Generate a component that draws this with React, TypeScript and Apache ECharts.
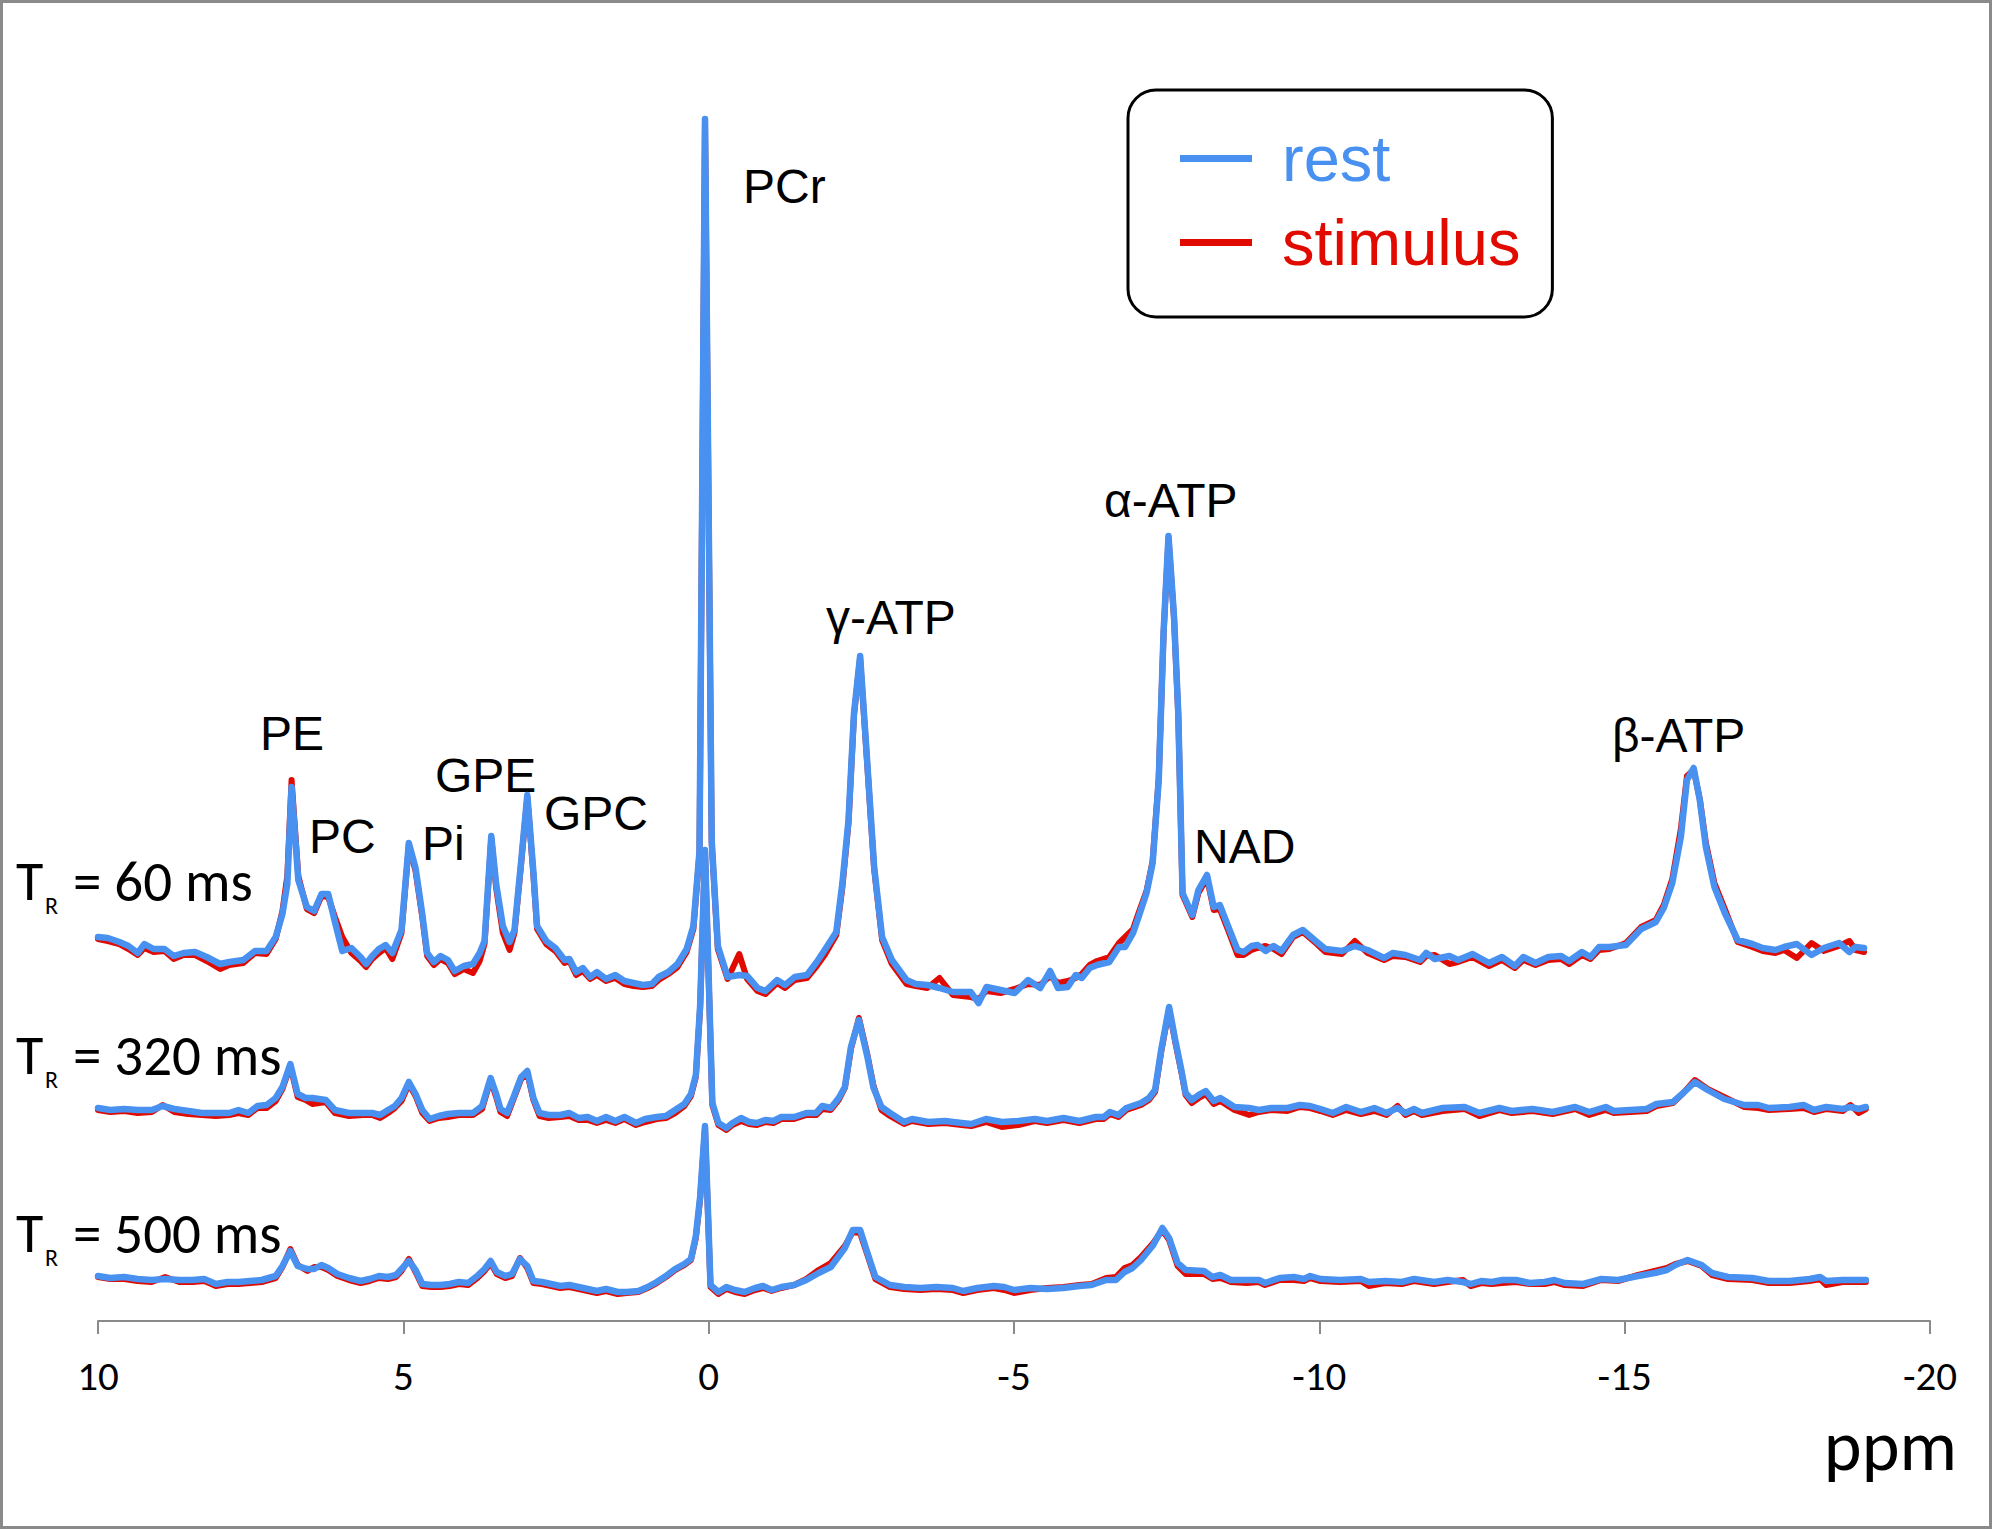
import React, { useEffect, useRef } from "react";
import * as echarts from "echarts";

// Columns: [chemical shift (ppm), rest, stimulus] — stacked intensities (a.u.)
const spectrum60: [number, number, number][] = [
  [10.0,384,382],[9.84,383,380],[9.65,379,377],[9.5,375,372],[9.35,368,366],[9.24,377,373],[9.09,372,369],[8.91,372,370],[8.76,365,362],[8.6,368,366],[8.41,369,366],[8.22,364,360],[8.0,357,352],[7.85,359,356],[7.62,361,358],[7.43,370,368],[7.24,370,367],[7.09,384,382],[6.98,407,410],[6.9,437,445],[6.83,534,541],[6.72,441,445],[6.58,414,412],[6.46,410,408],[6.34,427,425],[6.23,427,424],[6.12,399,404],[6.0,370,384],[5.85,373,368],[5.7,364,360],[5.61,357,354],[5.51,365,362],[5.4,372,368],[5.29,376,373],[5.18,368,362],[5.03,391,388],[4.91,478,476],[4.8,453,450],[4.69,407,404],[4.61,368,365],[4.5,359,356],[4.39,365,362],[4.27,361,358],[4.16,350,347],[4.01,355,352],[3.86,357,348],[3.75,368,360],[3.67,380,377],[3.56,485,483],[3.48,437,433],[3.37,395,388],[3.26,379,371],[3.18,391,388],[3.07,460,458],[2.97,526,524],[2.87,449,446],[2.81,395,392],[2.66,380,377],[2.51,373,370],[2.36,361,358],[2.28,362,360],[2.17,349,346],[2.06,353,350],[1.94,344,342],[1.83,349,346],[1.68,342,340],[1.53,346,343],[1.38,340,337],[1.23,338,335],[1.08,336,334],[0.93,337,335],[0.82,344,341],[0.66,349,347],[0.51,357,354],[0.36,372,369],[0.25,395,392],[0.15,470,468],[0.06,1202,1199],[-0.05,480,478],[-0.15,375,372],[-0.31,344,342],[-0.5,346,367],[-0.63,345,342],[-0.8,333,330],[-0.93,330,327],[-1.12,341,338],[-1.25,336,333],[-1.41,344,341],[-1.61,346,343],[-1.77,359,355],[-1.9,371,366],[-2.09,389,386],[-2.19,438,434],[-2.29,501,498],[-2.38,608,606],[-2.48,665,663],[-2.58,574,572],[-2.71,454,452],[-2.84,384,381],[-3.0,361,357],[-3.24,341,337],[-3.39,337,335],[-3.58,336,333],[-3.78,333,343],[-4.0,329,326],[-4.29,329,324],[-4.42,318,322],[-4.55,334,330],[-4.78,331,328],[-5.01,328,332],[-5.23,341,337],[-5.43,333,336],[-5.59,350,345],[-5.72,333,338],[-5.88,334,340],[-6.01,346,343],[-6.11,343,347],[-6.24,353,356],[-6.36,356,360],[-6.56,359,364],[-6.72,374,378],[-6.82,374,384],[-6.95,388,392],[-7.04,404,408],[-7.17,428,430],[-7.27,458,460],[-7.37,541,543],[-7.45,690,688],[-7.53,785,783],[-7.62,705,703],[-7.69,608,606],[-7.76,428,426],[-7.92,406,404],[-8.02,431,428],[-8.16,446,443],[-8.27,414,411],[-8.37,416,412],[-8.53,391,387],[-8.66,371,366],[-8.76,369,366],[-8.89,375,371],[-8.99,376,373],[-9.12,370,375],[-9.25,375,372],[-9.38,370,367],[-9.57,386,384],[-9.73,391,389],[-9.96,379,377],[-10.1,372,369],[-10.37,370,367],[-10.58,375,380],[-10.79,371,368],[-11.06,363,361],[-11.2,368,365],[-11.41,366,364],[-11.65,361,359],[-11.75,368,365],[-11.89,362,366],[-12.13,365,357],[-12.27,361,359],[-12.51,367,364],[-12.78,358,355],[-12.99,364,361],[-13.2,355,353],[-13.34,364,361],[-13.54,358,356],[-13.75,364,361],[-13.96,365,362],[-14.09,360,357],[-14.3,369,366],[-14.44,364,362],[-14.58,374,371],[-14.75,374,372],[-15.02,376,378],[-15.27,392,394],[-15.51,399,401],[-15.64,413,416],[-15.78,438,442],[-15.92,484,492],[-16.02,541,545],[-16.13,553,551],[-16.23,521,522],[-16.33,474,478],[-16.47,434,438],[-16.64,408,412],[-16.85,381,379],[-17.09,377,374],[-17.26,373,370],[-17.47,371,368],[-17.61,374,371],[-17.82,377,363],[-18.06,366,378],[-18.26,373,370],[-18.51,378,375],[-18.68,369,380],[-18.78,374,371],[-18.92,373,369]
];

const spectrum320: [number, number, number][] = [
  [10.0,213,211],[9.8,211,209],[9.57,212,210],[9.35,211,208],[9.12,211,209],[8.94,215,216],[8.75,212,209],[8.52,210,207],[8.3,208,206],[8.07,208,205],[7.85,208,206],[7.7,211,208],[7.54,208,206],[7.39,215,213],[7.24,216,213],[7.09,223,220],[6.98,234,232],[6.85,257,255],[6.73,227,224],[6.6,223,221],[6.49,223,217],[6.27,221,219],[6.12,211,208],[5.89,208,205],[5.67,208,206],[5.51,208,206],[5.38,206,203],[5.25,211,208],[5.14,215,213],[5.03,223,220],[4.91,239,237],[4.8,227,225],[4.69,211,208],[4.57,202,200],[4.42,205,203],[4.27,207,204],[4.09,208,206],[3.86,208,206],[3.71,215,212],[3.57,243,241],[3.48,227,224],[3.41,212,209],[3.3,208,205],[3.2,223,221],[3.07,244,242],[2.97,250,248],[2.87,223,221],[2.77,208,205],[2.62,206,203],[2.43,206,204],[2.28,208,205],[2.13,203,201],[1.98,204,201],[1.83,200,198],[1.68,204,201],[1.53,200,198],[1.38,204,202],[1.19,198,196],[1.04,202,199],[0.85,204,202],[0.7,205,203],[0.55,211,208],[0.4,217,215],[0.29,227,225],[0.21,246,244],[0.14,315,313],[0.06,471,469],[-0.06,218,216],[-0.16,198,196],[-0.29,193,191],[-0.39,198,196],[-0.53,203,200],[-0.66,199,197],[-0.79,198,196],[-0.93,201,199],[-1.06,200,198],[-1.19,204,202],[-1.4,204,202],[-1.6,208,206],[-1.76,208,206],[-1.86,215,212],[-2.0,213,211],[-2.13,223,221],[-2.23,234,233],[-2.33,274,272],[-2.46,301,303],[-2.6,264,266],[-2.7,233,235],[-2.83,214,211],[-2.97,208,205],[-3.2,199,197],[-3.33,202,200],[-3.6,199,197],[-3.87,200,198],[-4.14,198,196],[-4.3,197,195],[-4.54,202,199],[-4.8,199,194],[-5.07,200,196],[-5.34,202,200],[-5.54,200,198],[-5.81,203,201],[-6.07,200,198],[-6.34,204,202],[-6.47,204,202],[-6.57,209,207],[-6.71,206,204],[-6.84,213,211],[-7.08,218,216],[-7.21,223,221],[-7.31,231,229],[-7.41,271,269],[-7.54,314,312],[-7.64,281,279],[-7.74,251,249],[-7.81,228,226],[-7.91,221,218],[-8.05,227,224],[-8.14,230,227],[-8.27,220,217],[-8.38,223,220],[-8.61,214,211],[-8.85,213,206],[-9.01,211,209],[-9.21,213,211],[-9.48,213,210],[-9.68,216,214],[-9.85,215,213],[-10.02,212,210],[-10.22,208,206],[-10.44,214,211],[-10.68,209,207],[-10.9,213,210],[-11.1,208,206],[-11.28,213,215],[-11.41,208,206],[-11.55,212,210],[-11.68,208,206],[-12.02,213,210],[-12.38,214,212],[-12.62,208,205],[-12.95,213,211],[-13.15,210,208],[-13.49,212,210],[-13.82,209,207],[-14.19,214,212],[-14.42,209,206],[-14.69,214,211],[-14.82,210,208],[-15.09,211,209],[-15.36,212,210],[-15.52,217,215],[-15.79,219,218],[-15.96,228,228],[-16.15,239,241],[-16.36,231,232],[-16.63,222,224],[-16.96,216,214],[-17.19,216,213],[-17.36,213,211],[-17.7,214,212],[-17.93,216,213],[-18.1,211,209],[-18.3,214,212],[-18.57,212,210],[-18.7,214,216],[-18.83,212,208],[-18.95,214,212]
];

const spectrum500: [number, number, number][] = [
  [10.0,45,44],[9.8,43,42],[9.57,44,42],[9.35,42,40],[9.12,41,39],[8.9,42,44],[8.67,41,39],[8.45,41,39],[8.26,42,40],[8.07,37,35],[7.88,39,37],[7.7,39,37],[7.51,40,38],[7.32,41,39],[7.09,45,43],[6.98,55,54],[6.85,70,72],[6.73,55,56],[6.57,52,50],[6.46,52,54],[6.34,56,54],[6.23,53,51],[6.08,47,45],[5.89,43,41],[5.7,40,38],[5.55,42,40],[5.4,45,43],[5.25,44,42],[5.12,46,44],[5.03,52,50],[4.91,60,62],[4.8,51,49],[4.69,37,35],[4.54,36,34],[4.39,36,34],[4.24,37,35],[4.09,39,37],[3.94,38,36],[3.79,45,43],[3.67,52,50],[3.57,60,58],[3.47,49,47],[3.33,45,43],[3.22,47,45],[3.09,62,63],[2.97,55,53],[2.87,40,38],[2.73,39,37],[2.58,37,35],[2.43,35,33],[2.28,36,34],[2.13,34,32],[1.98,32,30],[1.83,30,28],[1.68,32,30],[1.49,29,27],[1.34,29,28],[1.15,30,29],[1.0,34,33],[0.85,39,38],[0.7,45,44],[0.55,52,51],[0.4,57,56],[0.29,62,61],[0.21,85,83],[0.14,124,122],[0.06,195,193],[-0.03,36,34],[-0.16,29,27],[-0.29,34,32],[-0.43,31,29],[-0.59,29,27],[-0.76,33,31],[-0.89,35,33],[-1.03,31,30],[-1.19,34,33],[-1.4,36,36],[-1.6,41,42],[-1.8,48,51],[-2.0,54,58],[-2.23,73,75],[-2.36,91,89],[-2.48,91,88],[-2.6,68,66],[-2.73,44,42],[-2.97,36,34],[-3.2,34,32],[-3.47,33,31],[-3.73,34,32],[-4.0,33,31],[-4.17,30,28],[-4.4,33,31],[-4.67,35,33],[-4.84,34,31],[-5.0,31,28],[-5.27,33,31],[-5.54,32,33],[-5.81,33,34],[-6.07,35,36],[-6.27,36,37],[-6.51,41,43],[-6.67,41,44],[-6.81,49,53],[-6.94,53,56],[-7.08,61,64],[-7.28,76,78],[-7.43,93,91],[-7.54,83,81],[-7.68,58,55],[-7.81,51,47],[-8.11,50,47],[-8.25,44,42],[-8.38,46,43],[-8.55,41,39],[-8.81,41,38],[-9.01,41,39],[-9.11,38,36],[-9.35,43,41],[-9.58,44,41],[-9.75,42,40],[-9.85,45,43],[-10.02,42,40],[-10.34,41,39],[-10.68,42,40],[-10.81,39,35],[-11.08,40,38],[-11.35,39,37],[-11.55,42,40],[-11.88,39,37],[-12.1,41,39],[-12.35,39,41],[-12.48,37,35],[-12.65,40,38],[-12.82,39,37],[-13.0,41,38],[-13.22,41,39],[-13.45,38,37],[-13.69,39,37],[-13.85,41,39],[-14.02,38,36],[-14.32,37,35],[-14.62,42,41],[-14.89,41,40],[-15.22,45,46],[-15.49,48,50],[-15.69,51,53],[-15.83,56,57],[-16.03,61,60],[-16.26,56,55],[-16.43,48,46],[-16.69,44,42],[-17.09,43,41],[-17.36,40,38],[-17.7,40,38],[-18.03,42,40],[-18.2,44,42],[-18.3,40,36],[-18.57,41,39],[-18.95,41,39]
];

const SPECTRA = [spectrum60, spectrum320, spectrum500];
const SERIES_NAMES = ["rest", "stimulus"];
const X_TICKS = [10, 5, 0, -5, -10, -15, -20];

const PEAK_LABELS = ["PE", "PC", "Pi", "GPE", "GPC", "PCr", "γ-ATP", "α-ATP", "NAD", "β-ATP"];
const TR_LABELS = ["= 60 ms", "= 320 ms", "= 500 ms"];

const BLUE = "#4891f0";
const RED = "#e00a00";
const ARIAL = "'Liberation Sans', Arial, sans-serif";
const CAL = "Carlito, 'Liberation Sans Narrow', 'DejaVu Sans Condensed', 'Liberation Sans', sans-serif";

const W = 1992;
const H = 1529;

export default function App() {
  const ref = useRef<HTMLDivElement>(null);

  useEffect(() => {
    if (!ref.current) return;
    const chart = echarts.init(ref.current, undefined, { renderer: "svg" });

    const series: any[] = [];
    SPECTRA.forEach((sp) => {
      series.push({
        type: "line",
        name: SERIES_NAMES[1],
        data: sp.map((r) => [r[0], r[2]]),
        symbol: "none",
        showSymbol: false,
        lineStyle: { width: 6, color: RED, join: "round", cap: "round" },
        itemStyle: { color: RED },
        z: 2,
      });
    });
    SPECTRA.forEach((sp) => {
      series.push({
        type: "line",
        name: SERIES_NAMES[0],
        data: sp.map((r) => [r[0], r[1]]),
        symbol: "none",
        showSymbol: false,
        lineStyle: { width: 6.5, color: BLUE, join: "round", cap: "round" },
        itemStyle: { color: BLUE },
        z: 3,
      });
    });

    const peakPos: [number, number, string][] = [
      [292, 733, "center"],
      [309, 836, "left"],
      [422, 843, "left"],
      [435, 775, "left"],
      [544, 813, "left"],
      [743, 186, "left"],
      [826, 617, "left"],
      [1104, 500, "left"],
      [1194, 846, "left"],
      [1612, 735, "left"],
    ];
    const graphics: any[] = [
      {
        type: "rect",
        shape: { x: 1.5, y: 1.5, width: W - 3, height: H - 3 },
        style: { fill: "none", stroke: "#8a8a8a", lineWidth: 3 },
        silent: true,
      },
    ];
    PEAK_LABELS.forEach((t, i) => {
      const p = peakPos[i];
      graphics.push({
        type: "text",
        x: p[0],
        y: p[1],
        style: { text: t, fill: "#000", fontSize: 48, fontFamily: ARIAL, align: p[2], verticalAlign: "middle" },
      });
    });
    const trY = [881, 1055, 1233];
    TR_LABELS.forEach((t, i) => {
      graphics.push({
        type: "text", x: 16, y: trY[i],
        style: { text: "T", fill: "#000", fontSize: 56, fontFamily: CAL, align: "left", verticalAlign: "middle" },
      });
      graphics.push({
        type: "text", x: 45, y: trY[i] + 24,
        style: { text: "R", fill: "#000", fontSize: 24, fontFamily: CAL, align: "left", verticalAlign: "middle" },
      });
      graphics.push({
        type: "text", x: 73, y: trY[i],
        style: { text: t, fill: "#000", fontSize: 57, fontFamily: CAL, align: "left", verticalAlign: "middle" },
      });
    });
    graphics.push({
      type: "text", x: 1957, y: 1445,
      style: { text: "ppm", fill: "#000", fontSize: 72, lineHeight: 54, fontFamily: CAL, align: "right", verticalAlign: "middle" },
    });

    chart.setOption({
      animation: false,
      backgroundColor: "#ffffff",
      grid: { left: 98, right: 62, top: 0, bottom: 208, containLabel: false },
      legend: {
        left: 1128,
        top: 90,
        orient: "vertical",
        data: [
          { name: "rest", textStyle: { color: BLUE } },
          { name: "stimulus", textStyle: { color: RED } },
        ],
        icon: "rect",
        itemWidth: 72,
        itemHeight: 7,
        itemGap: 19,
        padding: [36, 32, 42, 52],
        borderColor: "#000",
        borderWidth: 3,
        borderRadius: 28,
        backgroundColor: "#fff",
        selectedMode: false,
        textStyle: { fontSize: 65, fontFamily: ARIAL, lineHeight: 65, padding: [0, 0, 0, 25] },
      },
      xAxis: {
        type: "value",
        min: X_TICKS[X_TICKS.length - 1],
        max: X_TICKS[0],
        interval: 5,
        inverse: true,
        splitLine: { show: false },
        axisLine: { show: true, onZero: false, lineStyle: { color: "#8a8a8a", width: 2 } },
        axisTick: { show: true, length: 13, lineStyle: { color: "#8a8a8a", width: 2 } },
        axisLabel: { margin: 38, fontSize: 41, lineHeight: 34, fontFamily: CAL, color: "#000" },
      },
      yAxis: { type: "value", min: 0, max: 1321, show: false },
      series,
      graphic: graphics,
    });

    return () => chart.dispose();
  }, []);

  return (
    <div
      ref={ref}
      style={{ position: "absolute", left: 0, top: 0, width: W, height: H, background: "#fff" }}
    />
  );
}
